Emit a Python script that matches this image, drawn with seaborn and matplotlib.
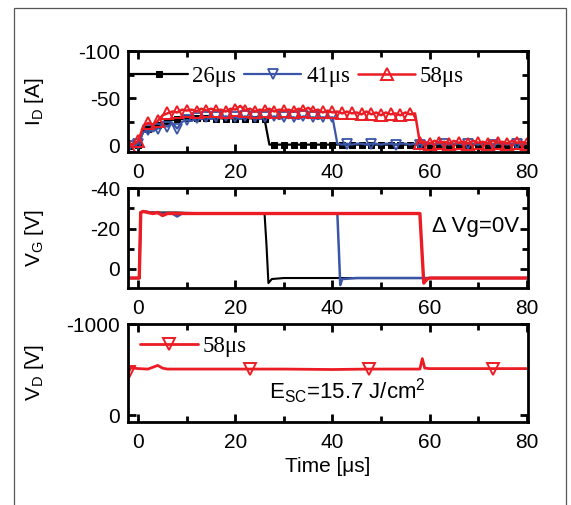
import numpy as np
import pandas as pd
import matplotlib
matplotlib.use("Agg")
import matplotlib.pyplot as plt
from matplotlib.patches import Rectangle
from matplotlib.ticker import MultipleLocator
import seaborn as sns

# drain current I_D [A], sampled every 1 us from -2 to 80
t_id = list(range(-2, 81))
id_26 = [0, 0, -1, -15, -18, -20, -22, -25, -26, -27, -28, -28, -29, -28, -29, -28, -29, -29, -28, -29, -28,
         -29, -28, -29, -28, -29, -28, -29, -28, -1, -1, -1, -1, -1, -1, -1, -1, -1, -1, -1, -1, -1, -1,
         -1, -1, -1, -1, -1, -1, -1, -1, -1, -1, -1, -1, -1, -1, -1, -1, -1, -1, -1, -1, -1, -1, -1, -1,
         -1, -1, -1, -1, -1, -1, -1, -1, -1, -1, -1, -1, -1, -1, -1, -1]
id_41 = [0, 0, -2, -14, -16, -15, -18, -22, -20, -24, -18, -25, -27, -26, -29, -28, -30, -28, -30, -29, -31,
         -29, -30, -28, -31, -29, -30, -28, -30, -29, -31, -28, -30, -29, -30, -28, -31, -29, -30, -28, -30,
         -29, -30, -2, -1, -2, -1, -2, -2, -1, -2, -2, -1, -2, -2, -1, -2, -2, -1, -2, -1, -2, -2, -1, -2,
         -2, -1, -2, -2, -1, -2, -2, -1, -2, -2, -1, -2, -2, -1, -2, -2, -1, -2]
id_58 = [0, -1, -5, -20, -24, -22, -26, -32, -34, -36, -35, -38, -37, -38, -36, -39, -37, -39, -37, -38, -36,
         -39, -38, -42, -37, -39, -36, -38, -37, -39, -36, -38, -37, -38, -36, -39, -37, -40, -36, -38, -35,
         -37, -35, -36, -34, -36, -34, -35, -33, -36, -33, -35, -32, -35, -33, -34, -32, -35, -33, -34, -3,
         -4, -2, -5, -3, -4, -2, -5, -3, -4, -2, -5, -3, -4, -2, -5, -3, -4, -2, -5, -3, -4, -2]

# gate voltage V_G [V]
t_vg_26 = [-2, 0.2, 0.5, 1, 3, 5, 8, 10, 15, 20, 25, 26.0, 26.4, 26.8, 27.5, 30, 40, 50, 60, 70, 80]
vg_26 = [4.5, 4.5, -28, -28.5, -28, -28, -28, -27.8, -27.6, -27.5, -27.5, -27.5, -12, 7, 5, 4.5, 4.5, 4.5, 4.5, 4.5, 4.5]
t_vg_41 = [-2, 0.2, 0.5, 1, 3, 5, 7, 8, 9, 10, 20, 30, 40, 41.0, 41.3, 41.6, 42, 45, 50, 60, 70, 80]
vg_41 = [4.5, 4.5, -28, -28.5, -28, -27.5, -27.5, -26, -27.5, -27.5, -27.5, -27.5, -27.5, -27.5, -10, 8, 5, 4.5, 4.5,
         4.5, 4.5, 4.5]
t_vg_58 = [-2, 0.2, 0.5, 1, 3, 4, 5, 6, 10, 20, 30, 40, 50, 58.0, 58.4, 58.8, 59.5, 60, 70, 80]
vg_58 = [4.5, 4.5, -28, -28.5, -27.5, -28, -26.5, -27.5, -27.5, -27.5, -27.5, -27.5, -27.5, -27.5, -10, 7, 5, 4.5,
         4.5, 4.5]

# drain voltage V_D [V], 58 us pulse
t_vd = [-2, -1.5, -1, 0, 2, 4, 5, 6, 10, 20, 23, 30, 40, 47.5, 50, 58, 58.5, 59, 60, 70, 73, 80]
vd_58 = [-470, -525, -515, -510, -505, -545, -515, -505, -505, -505, -505, -505, -500, -505, -505, -505, -620,
         -515, -510, -510, -510, -510]
vd_marks = [0, 10, 13, 20]

blue = '#3a55a8'
red = '#ec1c24'
sans = ['Liberation Sans', 'DejaVu Sans']
serif = ['Liberation Serif', 'DejaVu Serif']

sns.set_style('ticks')
plt.rcParams['font.family'] = sans
plt.rcParams['axes.linewidth'] = 2.0
plt.rcParams['axes.edgecolor'] = 'black'
plt.rcParams['axes.unicode_minus'] = False
plt.rcParams['xtick.color'] = 'black'
plt.rcParams['ytick.color'] = 'black'
plt.rcParams['text.color'] = 'black'
plt.rcParams['axes.labelcolor'] = 'black'

fig = plt.figure(figsize=(5.71, 5.05), dpi=100)
ax1 = fig.add_axes([0.2247, 0.6996, 0.700, 0.1994])
ax2 = fig.add_axes([0.2247, 0.4291, 0.700, 0.1980])
ax3 = fig.add_axes([0.2247, 0.1650, 0.700, 0.1934])

every2 = list(range(0, len(t_id), 2))
blue_marks = list(range(0, 44, 2)) + list(range(45, len(t_id), 5))

df_id = pd.DataFrame({'t': t_id, '26': id_26, '41': id_41, '58': id_58})
sns.lineplot(data=df_id, x='t', y='26', ax=ax1, color='black', lw=1.6, marker='s', ms=4.5, markevery=every2,
             markerfacecolor='black', markeredgecolor='black', label='26\u03bcs')
sns.lineplot(data=df_id, x='t', y='41', ax=ax1, color=blue, lw=1.6, marker='v', ms=7, markevery=blue_marks,
             markerfacecolor='none', markeredgecolor=blue, markeredgewidth=1.3, label='41\u03bcs')
sns.lineplot(data=df_id, x='t', y='58', ax=ax1, color=red, lw=1.8, marker='^', ms=8, markevery=every2,
             markerfacecolor='none', markeredgecolor=red, markeredgewidth=1.4, label='58\u03bcs')
ax1.set_ylim(6.5, -100)
ax1.yaxis.set_major_locator(MultipleLocator(50))
ax1.yaxis.set_minor_locator(MultipleLocator(25))
ax1.legend(loc='center left', bbox_to_anchor=(0.005, 0.75), ncol=3, frameon=False, numpoints=1,
           handlelength=2.5, handletextpad=0.2, columnspacing=0.35, borderaxespad=0.0, borderpad=0.0,
           prop={'family': serif, 'size': 16.5})
ax1.set_ylabel('I$_\\mathregular{D}$ [A]', fontsize=15)

sns.lineplot(x=t_vg_26, y=vg_26, ax=ax2, color='black', lw=1.5, sort=False)
sns.lineplot(x=t_vg_41, y=vg_41, ax=ax2, color=blue, lw=1.8, sort=False)
sns.lineplot(x=t_vg_58, y=vg_58, ax=ax2, color=red, lw=2.4, sort=False)
ax2.set_ylim(9.6, -40)
ax2.yaxis.set_major_locator(MultipleLocator(20))
ax2.yaxis.set_minor_locator(MultipleLocator(10))
ax2.text(0.978, 0.615, '\u0394 Vg=0V', transform=ax2.transAxes, ha='right', va='center', fontsize=16)
ax2.set_ylabel('V$_\\mathregular{G}$ [V]', fontsize=15)

sns.lineplot(x=t_vd, y=vd_58, ax=ax3, color=red, lw=2.0, marker='v', ms=8, markevery=vd_marks,
             markerfacecolor='none', markeredgecolor=red, markeredgewidth=1.4, label='58\u03bcs', sort=False)
ax3.set_ylim(73, -1000)
ax3.set_yticks([-1000, 0])
ax3.legend(loc='center left', bbox_to_anchor=(0.03, 0.765), frameon=False, numpoints=1,
           handlelength=2.5, handletextpad=0.2, borderaxespad=0.0, borderpad=0.0,
           prop={'family': serif, 'size': 16.5})
ax3.text(0.548, 0.31, 'E$_\\mathregular{SC}$=15.7 J/cm$^\\mathregular{2}$', transform=ax3.transAxes,
         ha='center', va='center', fontsize=16)
ax3.set_ylabel('V$_\\mathregular{D}$ [V]', fontsize=15)
ax3.set_xlabel('Time [\u03bcs]', fontsize=15, labelpad=4)

for ax in (ax1, ax2, ax3):
    ax.set_xlim(-2.06, 80.27)
    ax.xaxis.set_major_locator(MultipleLocator(20))
    ax.xaxis.set_minor_locator(MultipleLocator(10))
    ax.tick_params(which='both', direction='in', top=True, right=True, labelsize=15)
    ax.tick_params(axis='x', pad=8)
    ax.tick_params(axis='y', pad=6)
    ax.tick_params(which='major', length=6, width=2.0)
    ax.tick_params(which='minor', length=4, width=2.0)
    ax.yaxis.set_label_coords(-0.205, 0.5)
    if ax is not ax3:
        ax.set_xlabel('')

# thin frame around the panel
fig.add_artist(Rectangle((14 / 571, -0.1), 552 / 571, 1.1 - 7.7 / 505, transform=fig.transFigure,
                         fill=False, edgecolor='#555555', lw=0.9))

fig.savefig('out.png', dpi=100)
